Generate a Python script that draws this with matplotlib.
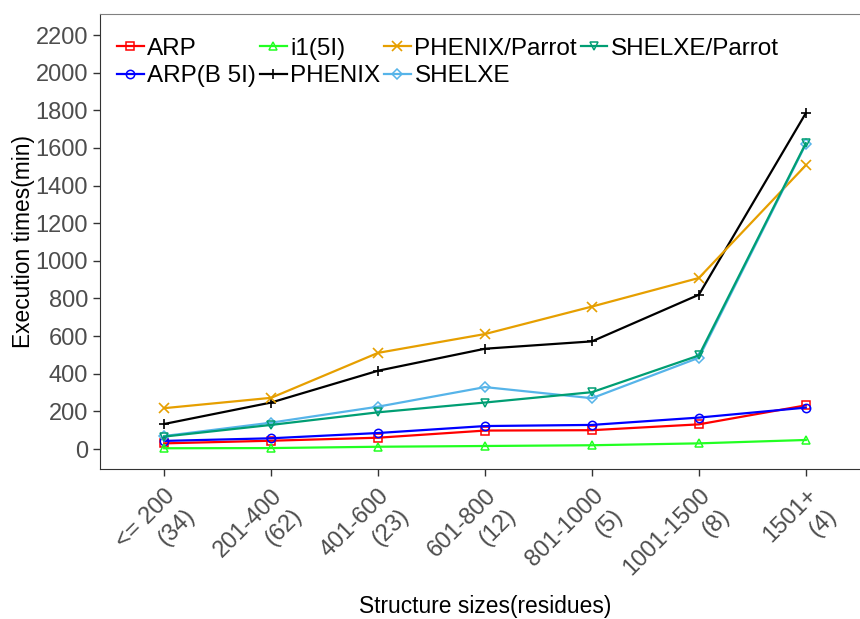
import matplotlib.pyplot as plt
from matplotlib.transforms import ScaledTranslation

plt.rcParams['font.family'] = ['Liberation Sans', 'DejaVu Sans']

categories = ['<= 200\n(34)', '201-400\n(62)', '401-600\n(23)', '601-800\n(12)',
              '801-1000\n(5)', '1001-1500\n(8)', '1501+\n(4)']

arp = [30, 44, 60, 98, 100, 131, 232]
arp_b5i = [43, 57, 85, 122, 128, 167, 220]
i1_5i = [4, 5, 12, 16, 20, 30, 48]
phenix = [133, 247, 416, 533, 572, 820, 1785]
phenix_parrot = [217, 272, 511, 611, 757, 909, 1508]
shelxe = [69, 140, 225, 329, 270, 485, 1620]
shelxe_parrot = [66, 128, 195, 247, 302, 497, 1625]

series = [
    ('ARP', arp, '#FF0000', 's'),
    ('ARP(B 5I)', arp_b5i, '#0000FF', 'o'),
    ('i1(5I)', i1_5i, '#22FF22', '^'),
    ('PHENIX', phenix, '#000000', '+'),
    ('PHENIX/Parrot', phenix_parrot, '#E69F00', 'x'),
    ('SHELXE', shelxe, '#56B4E9', 'D'),
    ('SHELXE/Parrot', shelxe_parrot, '#009E73', 'v'),
]

fig = plt.figure(figsize=(8.6, 6.19), dpi=100)
# ggplot-style discrete padding: the panel runs a bit past the right edge
ax = fig.add_axes([0.1163, 0.2418, 0.8953, 0.7356])

x = list(range(len(categories)))
for name, vals, col, mk in series:
    if mk in ('+', 'x'):
        ax.plot(x, vals, color=col, marker=mk, markersize=7.5, markeredgewidth=1.2,
                linewidth=1.6, label=name, clip_on=False)
    else:
        ms = 5 if mk == 'D' else 6
        ax.plot(x, vals, color=col, marker=mk, markersize=ms, markerfacecolor='none',
                markeredgewidth=1.1, linewidth=1.6, label=name)

ax.set_xlim(-0.6, 6.6)
ax.set_ylim(-108, 2312)
ax.set_yticks(range(0, 2201, 200))
ax.set_xticks(x)
ax.set_xticklabels(categories, rotation=45, ha='right', va='top',
                   rotation_mode='anchor', multialignment='right', linespacing=1.35)
shift = ScaledTranslation(11 / 100, 10 / 100, fig.dpi_scale_trans)
for lab in ax.get_xticklabels():
    lab.set_transform(lab.get_transform() + shift)

ax.tick_params(axis='both', labelsize=17, labelcolor='#4D4D4D', color='#333333',
               length=5, width=1)
ax.tick_params(axis='x', pad=6)
ax.spines['right'].set_visible(False)
ax.spines['top'].set_color('#808080')
ax.spines['left'].set_color('#333333')
ax.spines['bottom'].set_color('#333333')

fig.text(24 / 860, 1 - 241.5 / 619, 'Execution times(min)', fontsize=16.4,
         rotation=90, ha='center', va='center')
fig.text(485 / 860, 1 - 607 / 619, 'Structure sizes(residues)', fontsize=16.4,
         ha='center', va='center')

ax.legend(ncol=4, loc='upper left', bbox_to_anchor=(0.0, 0.985), frameon=False,
          fontsize=17.5, handlelength=1.1, handletextpad=0.15, columnspacing=0.15,
          labelspacing=0.22, borderaxespad=0.3)

fig.savefig('out.png', dpi=100)
